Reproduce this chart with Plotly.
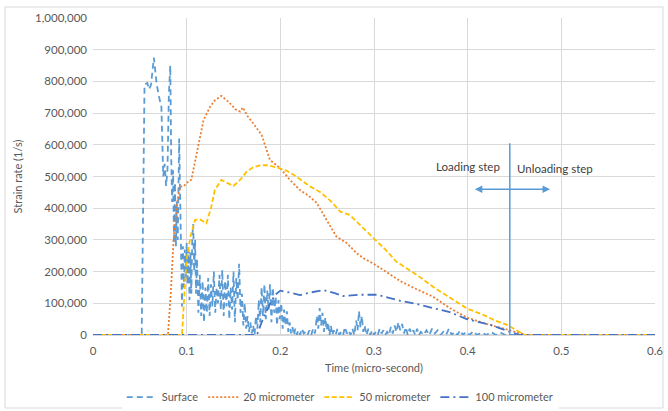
import plotly.graph_objects as go

# ---------------- data ----------------
surface_t = [0, 0.050, 0.052, 0.055, 0.058, 0.060, 0.062, 0.065, 0.066, 0.068, 0.071, 0.073,
             0.075, 0.0765, 0.078, 0.0795, 0.081, 0.0825, 0.0835, 0.0845, 0.0855, 0.0865, 0.0875,
             0.0885, 0.0895, 0.0905, 0.092, 0.093, 0.094, 0.095, 0.096, 0.097, 0.098, 0.099, 0.100,
             0.101, 0.102, 0.103, 0.104, 0.105, 0.106, 0.107, 0.108, 0.109, 0.110, 0.111, 0.1125,
             0.114, 0.1155, 0.117, 0.1185, 0.120, 0.1215, 0.123, 0.1245, 0.126, 0.1275, 0.129,
             0.1305, 0.132, 0.1335, 0.135, 0.1365, 0.138, 0.1395, 0.141, 0.1425, 0.144, 0.1455,
             0.147, 0.1485, 0.150, 0.1515, 0.153, 0.1545, 0.156, 0.1575, 0.159, 0.1605, 0.162,
             0.1635, 0.165, 0.1665, 0.168, 0.1695, 0.171, 0.1725, 0.174, 0.1755, 0.177, 0.1785,
             0.180, 0.1815, 0.183, 0.1845, 0.186, 0.1875, 0.189, 0.1905, 0.192, 0.1935, 0.195,
             0.1965, 0.198, 0.1995, 0.201, 0.2025, 0.204, 0.2055, 0.207, 0.2085, 0.210, 0.2115,
             0.213, 0.2145, 0.216, 0.2175, 0.219, 0.221, 0.223, 0.225, 0.227, 0.229, 0.231, 0.233,
             0.235, 0.237, 0.239, 0.2405, 0.242, 0.2435, 0.245, 0.2465, 0.248, 0.2495, 0.251,
             0.2525, 0.254, 0.2555, 0.257, 0.259, 0.261, 0.263, 0.265, 0.267, 0.269, 0.271, 0.273,
             0.275, 0.277, 0.279, 0.281, 0.2825, 0.284, 0.2855, 0.287, 0.2885, 0.290, 0.292, 0.294,
             0.296, 0.298, 0.300, 0.302, 0.304, 0.306, 0.308, 0.310, 0.312, 0.314, 0.316, 0.318,
             0.320, 0.322, 0.324, 0.326, 0.328, 0.330, 0.332, 0.334, 0.336, 0.338, 0.340, 0.342,
             0.344, 0.346, 0.348, 0.350, 0.353, 0.356, 0.359, 0.362, 0.365, 0.368, 0.371, 0.374,
             0.377, 0.380, 0.383, 0.386, 0.389, 0.392, 0.395, 0.398, 0.402, 0.406, 0.410, 0.415,
             0.420, 0.425, 0.430, 0.435, 0.440, 0.600]
surface_v = [0, 0, 0, 790000, 795000, 775000, 790000, 875000, 840000, 790000, 745000, 720000,
             500000, 540000, 470000, 520000, 760000, 850000, 560000, 420000, 520000, 290000, 480000,
             280000, 420000, 300000, 620000, 450000, 230000, 90000, 280000, 150000, 270000, 180000, 290000,
             160000, 270000, 110000, 260000, 130000, 310000, 350000, 200000, 300000, 130000, 240000, 70000,
             190000, 60000, 170000, 40000, 150000, 70000, 180000, 60000, 160000, 90000, 200000,
             70000, 150000, 100000, 190000, 80000, 205000, 60000, 170000, 90000, 190000, 50000,
             150000, 80000, 200000, 40000, 180000, 110000, 225000, 70000, 130000, 30000, 100000,
             20000, 60000, 10000, 40000, 5000, 30000, 0, 60000, 20000, 110000, 40000,
             150000, 60000, 160000, 50000, 140000, 80000, 160000, 40000, 150000, 70000, 120000,
             30000, 110000, 50000, 100000, 20000, 80000, 30000, 75000, 10000, 40000, 5000,
             25000, 0, 20000, 0, 15000, 0, 20000, 5000, 10000, 0, 15000, 0,
             20000, 5000, 60000, 20000, 85000, 30000, 70000, 10000, 55000, 15000, 40000,
             0, 30000, 0, 15000, 0, 20000, 0, 10000, 0, 25000, 5000, 15000,
             0, 20000, 0, 45000, 15000, 75000, 25000, 60000, 10000, 30000, 0, 20000,
             0, 15000, 0, 10000, 0, 20000, 5000, 15000, 0, 10000, 0, 25000,
             5000, 30000, 10000, 40000, 15000, 35000, 5000, 25000, 0, 20000, 5000, 15000,
             0, 20000, 0, 10000, 0, 15000, 0, 20000, 5000, 15000, 0, 10000,
             0, 20000, 0, 10000, 0, 15000, 0, 10000, 0, 12000, 0, 8000,
             0, 10000, 0, 8000, 0, 0]

m20_t = [0, 0.080, 0.083, 0.086, 0.090, 0.093, 0.097, 0.100, 0.105, 0.110, 0.118, 0.125,
         0.130, 0.137, 0.145, 0.152, 0.157, 0.160, 0.165, 0.171, 0.180, 0.189, 0.200, 0.210,
         0.221, 0.230, 0.239, 0.250, 0.260, 0.271, 0.2815, 0.290, 0.299, 0.310, 0.328, 0.345,
         0.363, 0.381, 0.399, 0.420, 0.445, 0.463, 0.600]
m20_v = [0, 0, 130000, 300000, 420000, 468000, 470000, 480000, 490000, 560000, 678000, 720000,
         740000, 754000, 735000, 712000, 705000, 718000, 690000, 668000, 631000, 552000, 526000, 490000,
         457000, 440000, 416000, 360000, 310000, 290000, 258000, 240000, 226000, 205000, 170000, 145000,
         121000, 85000, 55000, 35000, 16000, 0, 0]

m50_t = [0, 0.095, 0.098, 0.100, 0.104, 0.109, 0.114, 0.121, 0.126, 0.130, 0.137, 0.143,
         0.150, 0.157, 0.164, 0.171, 0.178, 0.185, 0.196, 0.207, 0.217, 0.232, 0.242, 0.253,
         0.264, 0.274, 0.286, 0.299, 0.312, 0.324, 0.335, 0.346, 0.363, 0.381, 0.399, 0.417,
         0.430, 0.442, 0.461, 0.600]
m50_v = [0, 0, 150000, 237000, 310000, 363000, 365000, 352000, 400000, 457000, 489000, 480000,
         470000, 489000, 515000, 529000, 535000, 536000, 529000, 518000, 500000, 468000, 452000, 425000,
         389000, 379000, 345000, 310000, 270000, 231000, 210000, 189000, 152000, 118000, 84000, 63000,
         45000, 32000, 0, 0]

m100_t = [0, 0.175, 0.180, 0.185, 0.190, 0.195, 0.200, 0.210, 0.221, 0.232, 0.246, 0.258,
          0.267, 0.285, 0.303, 0.315, 0.328, 0.345, 0.363, 0.381, 0.399, 0.424, 0.445, 0.456,
          0.600]
m100_v = [0, 0, 40000, 75000, 105000, 128000, 140000, 134000, 126000, 134000, 142000, 132000,
          123000, 127000, 127000, 118000, 108000, 98000, 85000, 72000, 50000, 32000, 10000, 0,
          0]

series_names = ["Surface", "20 micrometer", "50 micrometer", "100 micrometer"]
series_colors = ["#5B9BD5", "#ED7D31", "#FFC000", "#4472C4"]
series_dash = ["6px,4px", "2px,2px", "5px,2.5px", "9px,4px,2px,4px"]

x_ticks = [0, 0.1, 0.2, 0.3, 0.4, 0.5, 0.6]
y_ticks = [0, 100000, 200000, 300000, 400000, 500000, 600000, 700000, 800000, 900000, 1000000]

divider_t = 0.445
divider_top = 605000
arrow_y = 460000
arrow_left = 0.406
arrow_right = 0.488

# ---------------- figure ----------------
FONT = "Lato, 'Open Sans', sans-serif"
fig = go.Figure()
for name, tx, vy, col, dsh in zip(series_names,
                                  [surface_t, m20_t, m50_t, m100_t],
                                  [surface_v, m20_v, m50_v, m100_v],
                                  series_colors, series_dash):
    fig.add_trace(go.Scatter(x=tx, y=vy, name=name, mode="lines",
                             line=dict(color=col, width=1.8, dash=dsh)))

fig.add_shape(type="line", xref="x", yref="y", x0=divider_t, x1=divider_t, y0=0, y1=divider_top,
              line=dict(color="#5B9BD5", width=1.5))
fig.add_annotation(x=arrow_right, y=arrow_y, ax=arrow_left, ay=arrow_y, xref="x", yref="y",
                   axref="x", ayref="y", text="", showarrow=True, arrowhead=2, startarrowhead=2,
                   arrowside="end+start", arrowwidth=1.5, arrowcolor="#5B9BD5", arrowsize=1,
                   startarrowsize=1)
fig.add_annotation(x=0.400, y=530000, xref="x", yref="y", text="Loading step", showarrow=False,
                   font=dict(family=FONT, size=11.5, color="#404040"))
fig.add_annotation(x=0.4927, y=526000, xref="x", yref="y", text="Unloading step", showarrow=False,
                   font=dict(family=FONT, size=11.5, color="#404040"))

# x-axis title placed as paper-anchored text
fig.add_annotation(x=0.5, y=(335 - 367) / 317, xref="paper", yref="paper",
                   text="Time (micro-second)", showarrow=False, xanchor="center", yanchor="middle",
                   font=dict(family=FONT, size=11, color="#595959"))

# outer chart border
fig.add_shape(type="rect", xref="paper", yref="paper",
              x0=(5 - 93) / 562, x1=(663 - 93) / 562, y0=(335 - 408) / 317, y1=(335 - 7) / 317,
              line=dict(color="#D9D9D9", width=1), layer="below")

fig.update_layout(
    width=668, height=411,
    margin=dict(l=93, r=13, t=18, b=76, autoexpand=False),
    paper_bgcolor="white", plot_bgcolor="white",
    font=dict(family=FONT, size=11.5, color="#595959"),
    showlegend=True,
    legend=dict(orientation="h", x=0.44, xanchor="center", y=-0.196, yanchor="middle",
                font=dict(family=FONT, size=11, color="#595959"), itemwidth=30,
                traceorder="normal"),
    xaxis=dict(range=[0, 0.6], tickvals=x_ticks, ticktext=[str(v) for v in x_ticks],
               showgrid=True, gridcolor="#D9D9D9", gridwidth=1, zeroline=False,
               showline=False, ticks="", automargin=False, ticklabelstandoff=7,
               tickfont=dict(size=11.5, color="#595959")),
    yaxis=dict(range=[0, 1000000], tickvals=y_ticks, tickformat=",d",
               showgrid=True, gridcolor="#D9D9D9", gridwidth=1, zeroline=True,
               zerolinecolor="#D9D9D9", showline=False, ticks="", automargin=False,
               ticklabelstandoff=5,
               tickfont=dict(size=11.5, color="#595959"),
               title=dict(text="Strain rate (1/s)", font=dict(size=11, color="#595959"), standoff=10)),
)

fig.write_html("out.html", config={"displayModeBar": False},
               post_script="document.body.style.margin='0';document.body.style.padding='0';")
